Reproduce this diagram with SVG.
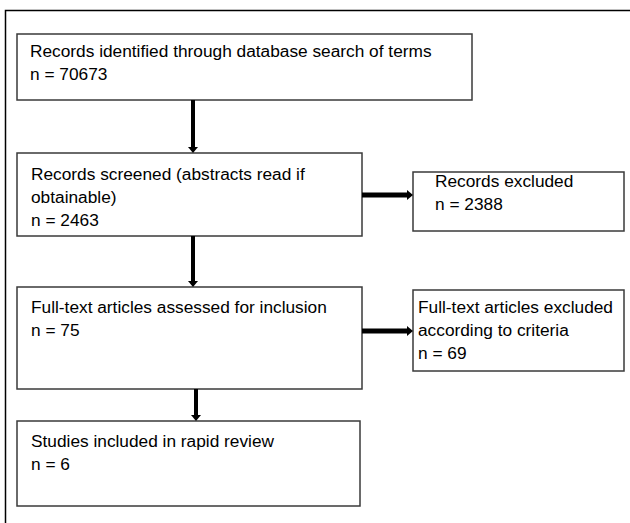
<svg xmlns="http://www.w3.org/2000/svg" width="630" height="523" viewBox="0 0 630 523">
<style>
.box{fill:#fff;stroke:#3a3a3a;stroke-width:1.5}
.frame{fill:none;stroke:#000;stroke-width:1.5}
.t{font-family:"Liberation Sans",Arial,sans-serif;font-size:17.3px;fill:#000}
.arr{stroke:#000;fill:none}
</style>
<defs>
<marker id="head" markerUnits="userSpaceOnUse" markerWidth="6" markerHeight="10" viewBox="0 0 6 10" refX="0" refY="5" orient="auto">
<path d="M0,0 L6,5 L0,10 Z" fill="#000"/>
</marker>
</defs>
<rect width="630" height="523" fill="#fff"/>
<path class="frame" d="M5.5,523 V10.5 H630"/>
<g id="n1"><rect class="box" x="17" y="34" width="455" height="66"/>
<text class="t" x="30" y="57">Records identified through database search of terms</text>
<text class="t" x="30" y="80">n = 70673</text></g>
<g id="n2"><rect class="box" x="17" y="153" width="345" height="83"/>
<text class="t" x="31" y="180">Records screened (abstracts read if</text>
<text class="t" x="31" y="203">obtainable)</text>
<text class="t" x="31" y="226">n = 2463</text></g>
<g id="n3"><rect class="box" x="413" y="172" width="211" height="59"/>
<text class="t" x="435" y="187">Records excluded</text>
<text class="t" x="435" y="210">n = 2388</text></g>
<g id="n4"><rect class="box" x="17" y="287" width="345" height="102"/>
<text class="t" x="31" y="313">Full-text articles assessed for inclusion</text>
<text class="t" x="31" y="336">n = 75</text></g>
<g id="n5"><rect class="box" x="413" y="290" width="211" height="81"/>
<text class="t" x="418" y="313">Full-text articles excluded</text>
<text class="t" x="418" y="336">according to criteria</text>
<text class="t" x="418" y="359">n = 69</text></g>
<g id="n6"><rect class="box" x="17" y="421" width="343" height="85"/>
<text class="t" x="31" y="447">Studies included in rapid review</text>
<text class="t" x="31" y="470">n = 6</text></g>
<g id="connectors">
<line class="arr" x1="193" y1="100" x2="193" y2="147" stroke-width="4" marker-end="url(#head)"/>
<line class="arr" x1="193" y1="236" x2="193" y2="281" stroke-width="4" marker-end="url(#head)"/>
<line class="arr" x1="196" y1="389" x2="196" y2="415" stroke-width="4" marker-end="url(#head)"/>
<line class="arr" x1="362" y1="195" x2="407" y2="195" stroke-width="5" marker-end="url(#head)"/>
<line class="arr" x1="362" y1="331" x2="407" y2="331" stroke-width="5" marker-end="url(#head)"/>
</g>
</svg>
